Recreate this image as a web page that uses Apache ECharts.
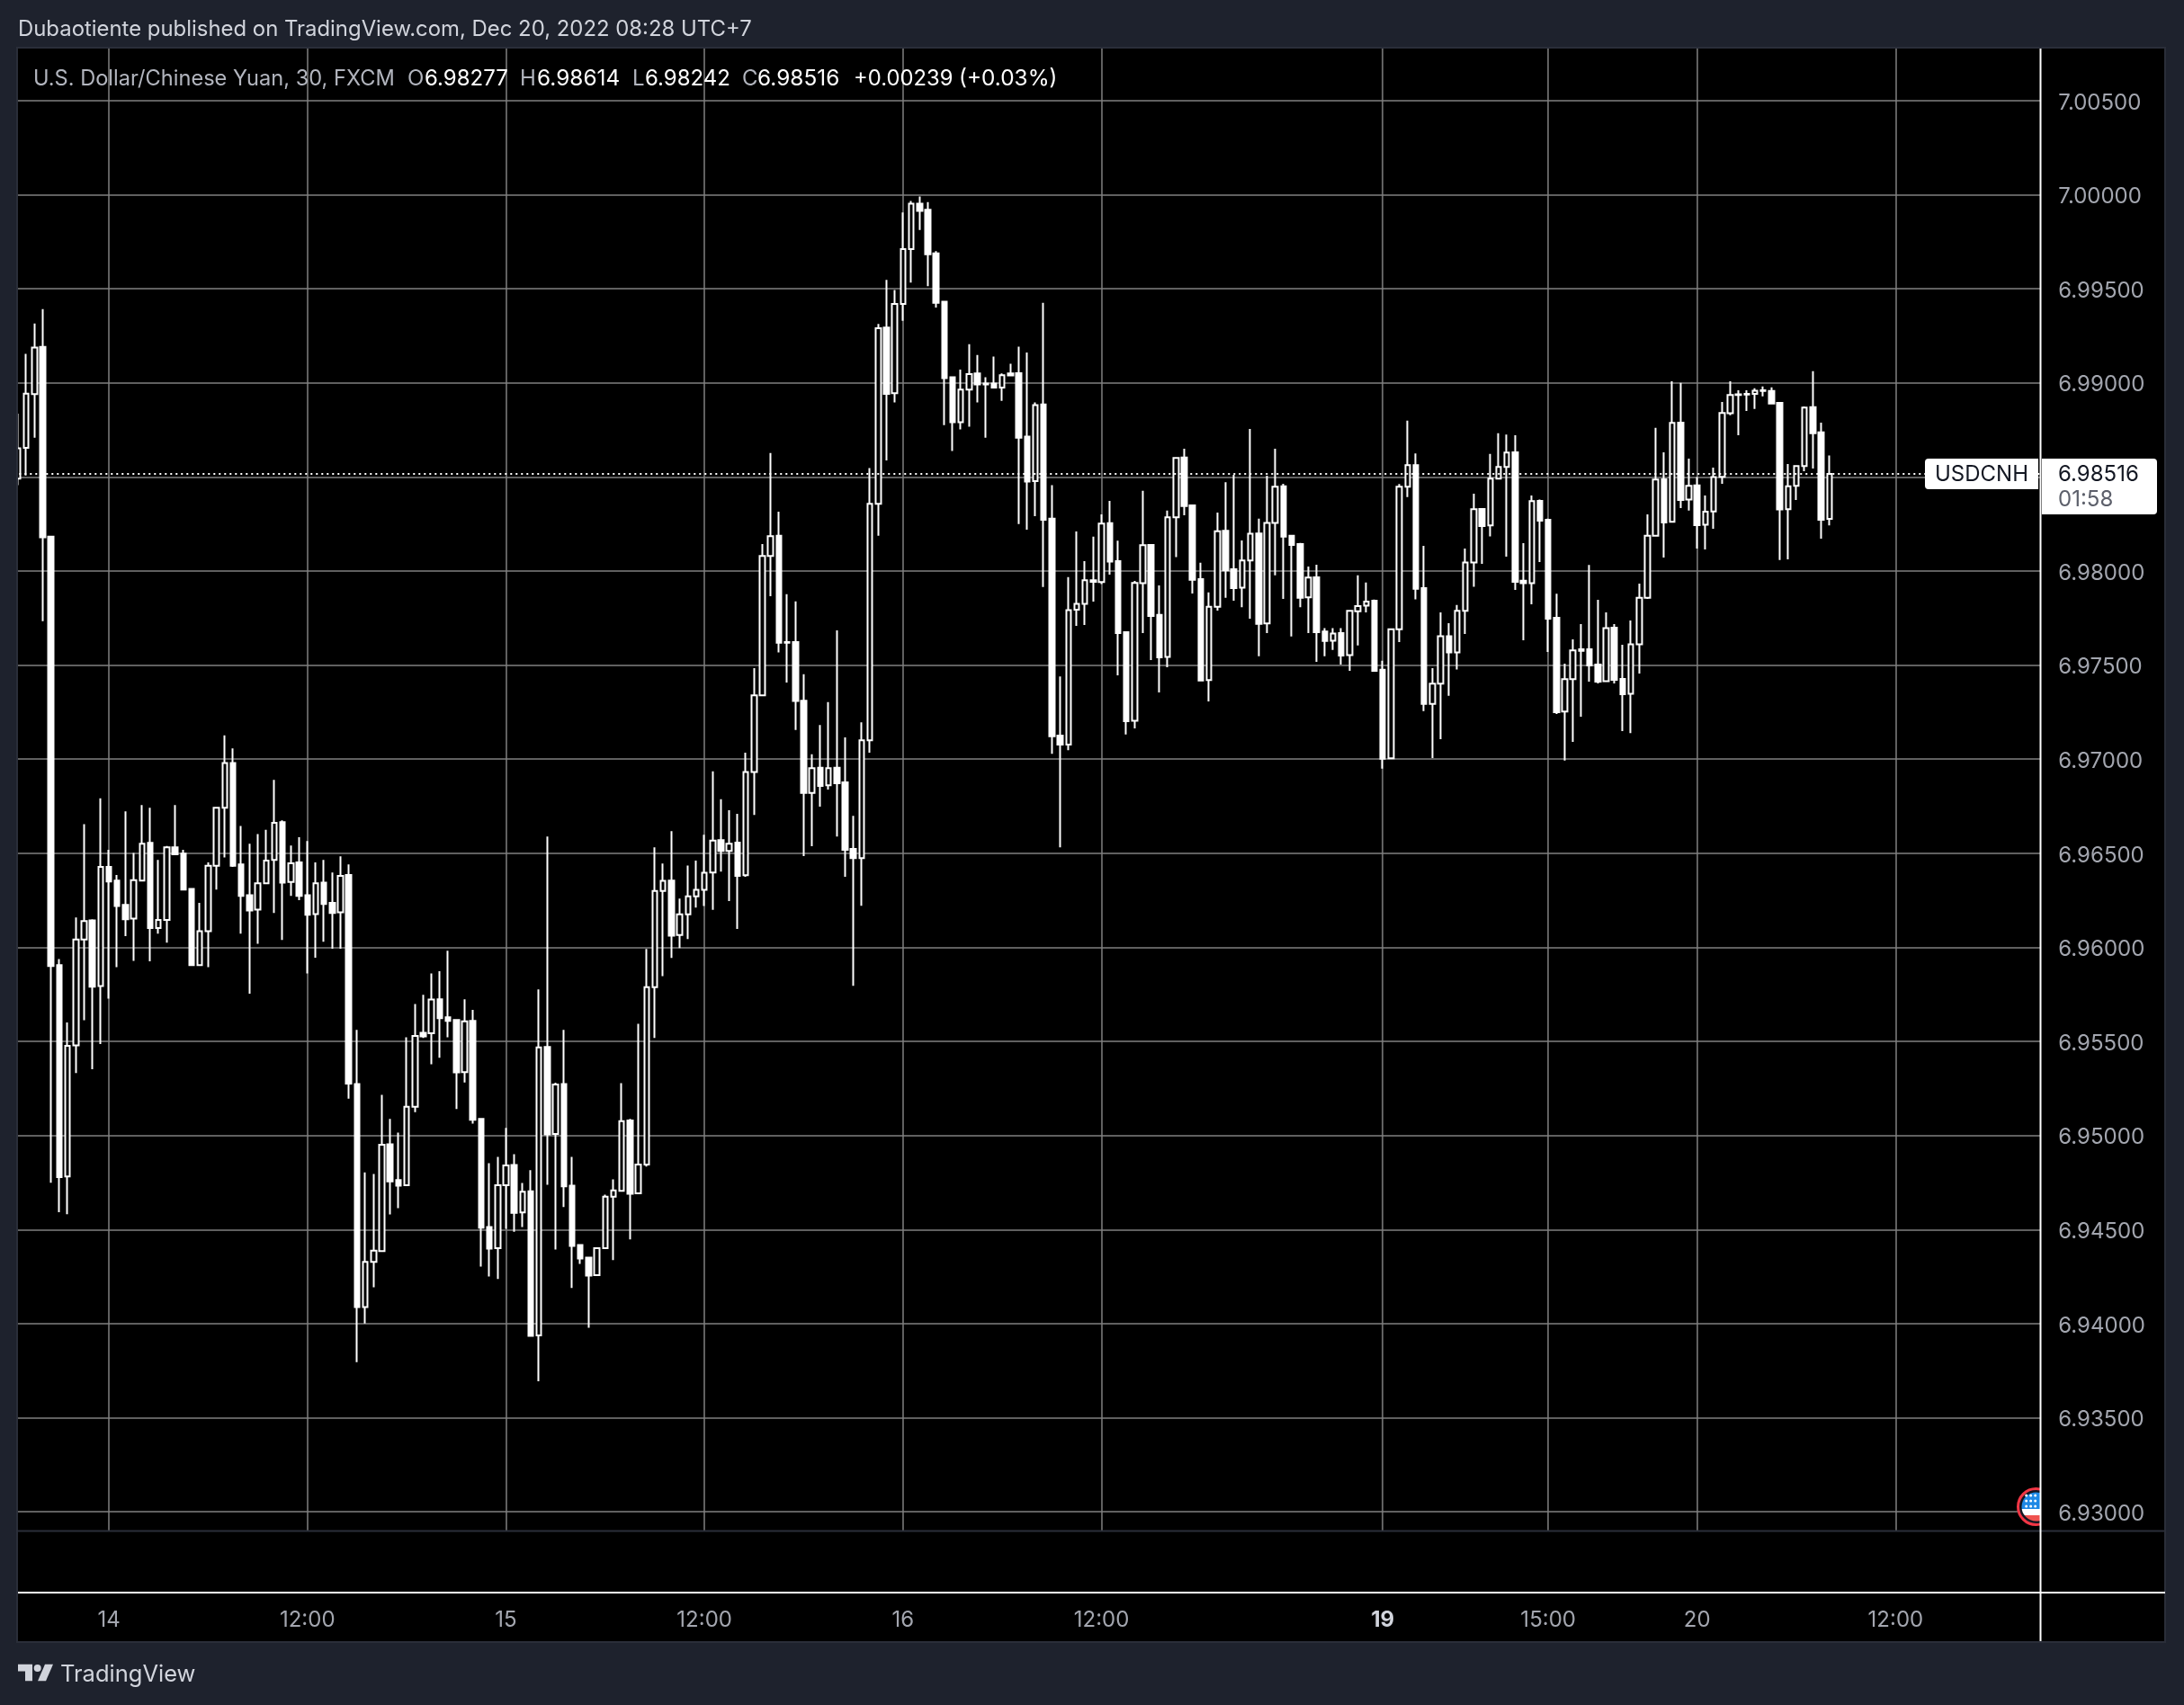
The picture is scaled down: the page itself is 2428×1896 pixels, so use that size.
<!DOCTYPE html>
<html>
<head>
<meta charset="utf-8">
<style>html,body{margin:0;padding:0;background:#1e222d}#c{width:2428px;height:1896px}</style>
<script src="https://cdn.jsdelivr.net/npm/echarts@6/dist/echarts.min.js"></script>
</head>
<body>
<div id="c"></div>
<script>
const opens = [
6.98491,6.98655,6.98940,6.99191,6.98183,6.95905,6.94782,6.95479,6.96042,6.96143,
6.95794,6.96427,6.96354,6.96226,6.96153,6.96354,6.96555,6.96102,6.96146,6.96531,
6.96498,6.96310,6.95905,6.96086,6.96434,6.96742,6.96980,6.96441,6.96277,6.96200,
6.96340,6.96464,6.96665,6.96347,6.96451,6.96277,6.96176,6.96344,6.96236,6.96186,
6.96384,6.95273,6.94088,6.94328,6.94385,6.94953,6.94763,6.94735,6.95152,6.95545,
6.95543,6.95724,6.95628,6.95614,6.95337,6.95609,6.95088,6.94513,6.94401,6.94735,
6.94843,6.94591,6.94703,6.93937,6.95470,6.95008,6.95273,6.94733,6.94417,6.94351,
6.94257,6.94401,6.94674,6.94706,6.95079,6.94692,6.94845,6.95788,6.96300,6.96355,
6.96065,6.96175,6.96271,6.96305,6.96397,6.96570,6.96512,6.96556,6.96383,6.96932,
6.97339,6.98080,6.98187,6.97619,6.97622,6.97311,6.96820,6.96954,6.96861,6.96954,
6.96877,6.96523,6.96474,6.97100,6.98357,6.99294,6.98945,6.99420,6.99711,6.99953,
6.99920,6.99689,6.99431,6.99030,6.98791,6.98964,6.99050,6.98997,6.98997,6.98975,
6.99050,6.99052,6.98714,6.98478,6.98885,6.98278,6.97125,6.97078,6.97794,6.97826,
6.97951,6.97941,6.98254,6.98052,6.97675,6.97204,6.97935,6.98139,6.97767,6.97543,
6.98286,6.98603,6.98349,6.97957,6.97420,6.97810,6.98214,6.98010,6.97911,6.98056,
6.98200,6.97721,6.98256,6.98450,6.98187,6.98143,6.97860,6.97967,6.97679,6.97630,
6.97670,6.97553,6.97786,6.97816,6.97842,6.97475,6.97004,6.97691,6.98448,6.98563,
6.97909,6.97294,6.97401,6.97654,6.97568,6.97788,6.98045,6.98330,6.98243,6.98491,
6.98553,6.98631,6.97948,6.97936,6.98373,6.98273,6.97752,6.97253,6.97425,6.97584,
6.97584,6.97503,6.97415,6.97699,6.97426,6.97348,6.97610,6.97858,6.98188,6.98488,
6.98262,6.98789,6.98380,6.98455,6.98246,6.98317,6.98501,6.98839,6.98936,6.98938,
6.98941,6.98957,6.98957,6.98894,6.98329,6.98453,6.98558,6.98871,6.98737,6.98277];
const highs = [
6.98836,6.99154,6.99315,6.99392,6.98183,6.95938,6.95600,6.96159,6.96655,6.96149,
6.96792,6.96518,6.96384,6.96722,6.96501,6.96756,6.96742,6.96464,6.96538,6.96756,
6.96518,6.96310,6.96236,6.96451,6.96742,6.97127,6.97057,6.96645,6.96551,6.96602,
6.96625,6.96890,6.96675,6.96541,6.96585,6.96565,6.96451,6.96464,6.96397,6.96484,
6.96441,6.95561,6.94804,6.94795,6.95216,6.95088,6.95015,6.95522,6.95699,6.95747,
6.95861,6.95873,6.95982,6.95619,6.95724,6.95667,6.95092,6.94852,6.94886,6.95040,
6.94900,6.94747,6.94815,6.95776,6.96589,6.95280,6.95561,6.94886,6.94422,6.94351,
6.94401,6.94685,6.94767,6.95278,6.95088,6.95593,6.95991,6.96531,6.96445,6.96618,
6.96259,6.96435,6.96461,6.96598,6.96935,6.96787,6.96729,6.96710,6.97034,6.97484,
6.98143,6.98627,6.98316,6.97877,6.97839,6.97451,6.97026,6.97182,6.97303,6.97685,
6.97116,6.96699,6.97196,6.98547,6.99313,6.99547,6.99494,6.99906,6.99967,6.99991,
6.99961,6.99700,6.99431,6.99030,6.99071,6.99206,6.99148,6.99030,6.99140,6.99050,
6.99102,6.99192,6.99162,6.98896,6.99426,6.98456,6.97440,6.97968,6.98210,6.98052,
6.98183,6.98301,6.98373,6.98161,6.97679,6.97947,6.98426,6.98143,6.97923,6.98321,
6.98605,6.98650,6.98353,6.98044,6.97887,6.98311,6.98472,6.98511,6.98163,6.98755,
6.98278,6.98507,6.98650,6.98464,6.98191,6.98149,6.98024,6.98034,6.97697,6.97697,
6.97697,6.97788,6.97977,6.97939,6.97848,6.97523,6.97691,6.98462,6.98799,6.98625,
6.98134,6.97484,6.97780,6.97723,6.97819,6.98120,6.98411,6.98330,6.98622,6.98732,
6.98725,6.98722,6.98148,6.98402,6.98380,6.98278,6.97879,6.97508,6.97637,6.97718,
6.98032,6.97847,6.97780,6.97718,6.97608,6.97737,6.97933,6.98301,6.98761,6.98631,
6.99009,6.99000,6.98598,6.98499,6.98402,6.98550,6.98899,6.99009,6.98961,6.98961,
6.98971,6.98981,6.98976,6.98894,6.98569,6.98558,6.98875,6.99062,6.98789,6.98614];
const lows = [
6.98457,6.98508,6.98709,6.97734,6.94749,6.94592,6.94581,6.95332,6.95613,6.95352,
6.95486,6.95727,6.95895,6.96059,6.95928,6.96350,6.95925,6.96072,6.96025,6.96494,
6.96307,6.95901,6.95905,6.95895,6.96307,6.96478,6.96427,6.96072,6.95754,6.96019,
6.96340,6.96183,6.96039,6.96273,6.96250,6.95861,6.95945,6.96029,6.95992,6.95992,
6.95195,6.93795,6.94001,6.94193,6.94385,6.94580,6.94614,6.94735,6.95124,6.95518,
6.95378,6.95413,6.95522,6.95140,6.95282,6.95063,6.94303,6.94250,6.94237,6.94504,
6.94488,6.94513,6.93935,6.93694,6.94738,6.94394,6.94619,6.94189,6.94317,6.93978,
6.94257,6.94401,6.94337,6.94706,6.94447,6.94692,6.94834,6.95518,6.95847,6.95943,
6.95996,6.96044,6.96211,6.96220,6.96199,6.96402,6.96246,6.96098,6.96375,6.96704,
6.97339,6.97866,6.97567,6.97407,6.97155,6.96485,6.96537,6.96748,6.96839,6.96589,
6.96375,6.95795,6.96221,6.97034,6.98187,6.98588,6.98896,6.99330,6.99533,6.99813,
6.99514,6.99401,6.98775,6.98638,6.98753,6.98767,6.98896,6.98709,6.98975,6.98904,
6.99039,6.98250,6.98220,6.98292,6.97915,6.97028,6.96531,6.97048,6.97709,6.97713,
6.97838,6.97931,6.97981,6.97446,6.97131,6.97164,6.97670,6.97527,6.97355,6.97489,
6.98074,6.98296,6.97881,6.97418,6.97307,6.97790,6.97858,6.97842,6.97808,6.97747,
6.97547,6.97670,6.97977,6.97852,6.97652,6.97808,6.97670,6.97517,6.97547,6.97580,
6.97503,6.97469,6.97604,6.97780,6.97469,6.96950,6.97004,6.97622,6.98393,6.97849,
6.97256,6.97006,6.97106,6.97337,6.97476,6.97665,6.97916,6.98038,6.98184,6.98491,
6.98077,6.97900,6.97632,6.97823,6.98048,6.97570,6.97240,6.96993,6.97092,6.97226,
6.97412,6.97402,6.97415,6.97402,6.97149,6.97139,6.97455,6.97852,6.98188,6.98072,
6.98262,6.98335,6.98321,6.98120,6.98115,6.98225,6.98464,6.98828,6.98722,6.98851,
6.98861,6.98928,6.98890,6.98058,6.98062,6.98378,6.98531,6.98545,6.98172,6.98242];
const closes = [
6.98652,6.98943,6.99188,6.98179,6.95901,6.94779,6.95476,6.96042,6.96139,6.95791,
6.96427,6.96350,6.96220,6.96149,6.96357,6.96551,6.96102,6.96146,6.96531,6.96494,
6.96307,6.95905,6.96086,6.96434,6.96742,6.96980,6.96434,6.96273,6.96196,6.96340,
6.96461,6.96662,6.96344,6.96447,6.96273,6.96173,6.96340,6.96230,6.96183,6.96380,
6.95275,6.94088,6.94328,6.94388,6.94950,6.94756,6.94733,6.95152,6.95529,6.95527,
6.95722,6.95623,6.95609,6.95335,6.95607,6.95083,6.94509,6.94399,6.94735,6.94841,
6.94589,6.94701,6.93935,6.95468,6.95005,6.95271,6.94729,6.94413,6.94346,6.94255,
6.94401,6.94674,6.94708,6.95076,6.94690,6.94845,6.95788,6.96300,6.96353,6.96062,
6.96175,6.96271,6.96305,6.96396,6.96567,6.96512,6.96551,6.96380,6.96932,6.97339,
6.98080,6.98185,6.97619,6.97622,6.97309,6.96820,6.96952,6.96858,6.96952,6.96872,
6.96518,6.96474,6.97100,6.98357,6.99291,6.98942,6.99420,6.99711,6.99953,6.99914,
6.99684,6.99426,6.99025,6.98791,6.98964,6.99047,6.98992,6.98992,6.98975,6.99041,
6.99039,6.98709,6.98476,6.98882,6.98272,6.97122,6.97078,6.97792,6.97826,6.97951,
6.97943,6.98252,6.98050,6.97670,6.97202,6.97937,6.98137,6.97761,6.97541,6.98286,
6.98601,6.98345,6.97953,6.97418,6.97810,6.98212,6.98004,6.97909,6.98056,6.98198,
6.97719,6.98256,6.98448,6.98183,6.98139,6.97858,6.97965,6.97675,6.97628,6.97668,
6.97551,6.97788,6.97814,6.97838,6.97469,6.97002,6.97691,6.98448,6.98563,6.97905,
6.97294,6.97401,6.97653,6.97567,6.97788,6.98045,6.98329,6.98239,6.98491,6.98553,
6.98630,6.97943,6.97935,6.98372,6.98268,6.97747,6.97249,6.97425,6.97578,6.97576,
6.97498,6.97412,6.97696,6.97422,6.97345,6.97610,6.97858,6.98188,6.98486,6.98258,
6.98788,6.98378,6.98453,6.98244,6.98316,6.98499,6.98840,6.98936,6.98939,6.98942,
6.98958,6.98961,6.98890,6.98327,6.98451,6.98558,6.98869,6.98732,6.98273,6.98516];
const barCount = 245;
const timeTickIndex = [11, 35, 59, 83, 107, 131, 165, 185, 203, 227];
const timeTickLabels = ['14', '12:00', '15', '12:00', '16', '12:00', '19', '15:00', '20', '12:00'];
const boldTimeLabels = ['19'];
const priceTicks = [7.005,7.0,6.995,6.99,6.985,6.98,6.975,6.97,6.965,6.96,6.955,6.95,6.945,6.94,6.935,6.93];
const lastPrice = 6.98516;
const headerText = 'Dubaotiente published on TradingView.com, Dec 20, 2022 08:28 UTC+7';

const FONT = 'Inter, "Noto Sans", sans-serif';
const BG = '#1e222d', FRAME = '#2a2e39', GRID = '#808080', AXIS_TXT = '#a3a6af';
const categories = Array.from({length: barCount}, (_, i) => String(i));
const candleData = opens.map((o, i) => [o, closes[i], lows[i], highs[i]]);

const flagSvg = 'data:image/svg+xml;utf8,' + encodeURIComponent(
 '<svg xmlns="http://www.w3.org/2000/svg" width="26" height="43" viewBox="0 0 26 43">' +
 '<defs><clipPath id="k"><circle cx="21.5" cy="21.5" r="16"/></clipPath></defs>' +
 '<circle cx="21.5" cy="21.5" r="20" fill="#131722" stroke="#f23645" stroke-width="3"/>' +
 '<g clip-path="url(#k)"><rect x="0" y="0" width="26" height="24" fill="#1e88e5"/>' +
 '<rect x="0" y="24" width="26" height="7" fill="#ffffff"/>' +
 '<rect x="0" y="31" width="26" height="12" fill="#ef5350"/></g>' +
 [9,15,21].map(y => [10.7,15.7,20.7].map(x => `<circle cx="${x}" cy="${y}" r="1.5" fill="#fff"/>`).join('')).join('') +
 '</svg>');

function legendText(text, x, color, size) {
  return {type: 'text', z: 60, style: {text, x, y: 88, fill: color, font: (size || 24) + 'px ' + FONT, verticalAlign: 'middle', textAlign: 'left'}};
}
const C1 = '#b2b5be';

const chart = echarts.init(document.getElementById('c'), null, {renderer: 'canvas', width: 2428, height: 1896});
chart.setOption({
  animation: false,
  backgroundColor: BG,
  grid: {left: 15.3, width: 2253, top: 54, height: 1648, containLabel: false},
  xAxis: {
    type: 'category', data: categories, boundaryGap: true,
    axisLine: {show: false},
    axisTick: {show: false, alignWithLabel: true, interval: (i) => timeTickIndex.includes(i)},
    splitLine: {show: true, alignWithLabel: true, interval: (i) => timeTickIndex.includes(i), lineStyle: {color: GRID, width: 1.5}},
    axisLabel: {
      show: true, margin: 88, fontFamily: FONT, fontSize: 24, color: AXIS_TXT, hideOverlap: false,
      interval: (i) => timeTickIndex.includes(i),
      formatter: (v, i) => {
        const t = timeTickLabels[timeTickIndex.indexOf(+v)] || '';
        return boldTimeLabels.includes(t) ? '{b|' + t + '}' : t;
      },
      rich: {b: {fontFamily: FONT, fontSize: 24, fontWeight: 'bold', color: '#d1d4dc'}}
    }
  },
  yAxis: {
    type: 'value', position: 'right', min: 6.929, max: 7.00777,
    axisLine: {show: false},
    axisTick: {show: false, customValues: priceTicks},
    splitLine: {show: true, lineStyle: {color: GRID, width: 1.5}},
    axisLabel: {
      show: true, customValues: priceTicks, margin: 20, fontFamily: FONT, fontSize: 24, color: AXIS_TXT,
      formatter: v => '{p|' + v.toFixed(5) + '}',
      rich: {p: {fontFamily: FONT, fontSize: 24, color: AXIS_TXT, padding: [5, 0, 0, 0]}}
    }
  },
  series: [{
    type: 'candlestick', data: candleData, barWidth: 6, clip: true,
    itemStyle: {color: '#000000', color0: '#ffffff', borderColor: '#ffffff', borderColor0: '#ffffff', borderWidth: 2},
    markLine: {
      silent: true, symbol: 'none', animation: false, precision: 5, label: {show: false},
      lineStyle: {color: '#ffffff', width: 2, type: [2, 4]},
      data: [{yAxis: lastPrice}]
    }
  }],
  graphic: {elements: [
    {type: 'rect', z: -5, silent: true, shape: {x: 20, y: 54, width: 2387, height: 1771}, style: {fill: '#000000'}},
    {type: 'rect', z: 40, silent: true, shape: {x: 0, y: 0, width: 20, height: 1896}, style: {fill: BG}},
    {type: 'image', z: 41, silent: true, style: {image: flagSvg, x: 2242, y: 1654, width: 26, height: 43}},
    {type: 'rect', z: 45, silent: true, shape: {x: 19, y: 53, width: 2388, height: 1773}, style: {fill: null, stroke: FRAME, lineWidth: 2}},
    {type: 'line', z: 45, silent: true, shape: {x1: 20, y1: 1702.5, x2: 2407, y2: 1702.5}, style: {stroke: FRAME, lineWidth: 2}},
    {type: 'line', z: 50, silent: true, shape: {x1: 20, y1: 1771, x2: 2407, y2: 1771}, style: {stroke: '#ffffff', lineWidth: 2}},
    {type: 'line', z: 50, silent: true, shape: {x1: 2268.5, y1: 54, x2: 2268.5, y2: 1825}, style: {stroke: '#ffffff', lineWidth: 2}},
    {type: 'text', z: 60, style: {text: headerText, x: 20, y: 33, fill: '#d1d4dc', font: '23.9px ' + FONT, verticalAlign: 'middle'}},
    legendText('U.S. Dollar/Chinese Yuan, 30, FXCM', 37, C1, 23.6),
    legendText('O', 453, C1), legendText('6.98277', 472, '#ffffff'),
    legendText('H', 578, C1), legendText('6.98614', 597, '#ffffff', 24.4),
    legendText('L', 703, C1), legendText('6.98242', 717, '#ffffff'),
    legendText('C', 825, C1), legendText('6.98516', 842, '#ffffff', 24.4),
    legendText('+0.00239', 949, '#ffffff', 23.8), legendText('(+0.03%)', 1066, '#ffffff', 24.4),
    {type: 'rect', z: 55, shape: {x: 2140, y: 510, width: 126, height: 34, r: [4, 0, 0, 4]}, style: {fill: '#ffffff'}},
    {type: 'rect', z: 55, shape: {x: 2270, y: 510, width: 128, height: 62, r: [0, 4, 4, 0]}, style: {fill: '#ffffff'}},
    {type: 'text', z: 60, style: {text: 'USDCNH', x: 2203, y: 528, fill: '#131722', font: '24px ' + FONT, textAlign: 'center', verticalAlign: 'middle'}},
    {type: 'text', z: 60, style: {text: lastPrice.toFixed(5), x: 2288, y: 528, fill: '#131722', font: '24px ' + FONT, verticalAlign: 'middle'}},
    {type: 'text', z: 60, style: {text: '01:58', x: 2288, y: 556, fill: '#5d606b', font: '24px ' + FONT, verticalAlign: 'middle'}},
    {type: 'polygon', z: 60, shape: {points: [[20,1850.7],[36,1850.7],[36,1869.3],[28,1869.3],[28,1858.5],[20,1858.5]]}, style: {fill: '#d1d4dc'}},
    {type: 'circle', z: 60, shape: {cx: 41.7, cy: 1855, r: 4}, style: {fill: '#d1d4dc'}},
    {type: 'polygon', z: 60, shape: {points: [[50,1850.7],[59,1850.7],[51,1869.3],[42,1869.3]]}, style: {fill: '#d1d4dc'}},
    {type: 'text', z: 60, style: {text: 'TradingView', x: 67, y: 1862, fill: '#d1d4dc', font: '25.5px ' + FONT, verticalAlign: 'middle'}}
  ]}
});
</script>
</body>
</html>
